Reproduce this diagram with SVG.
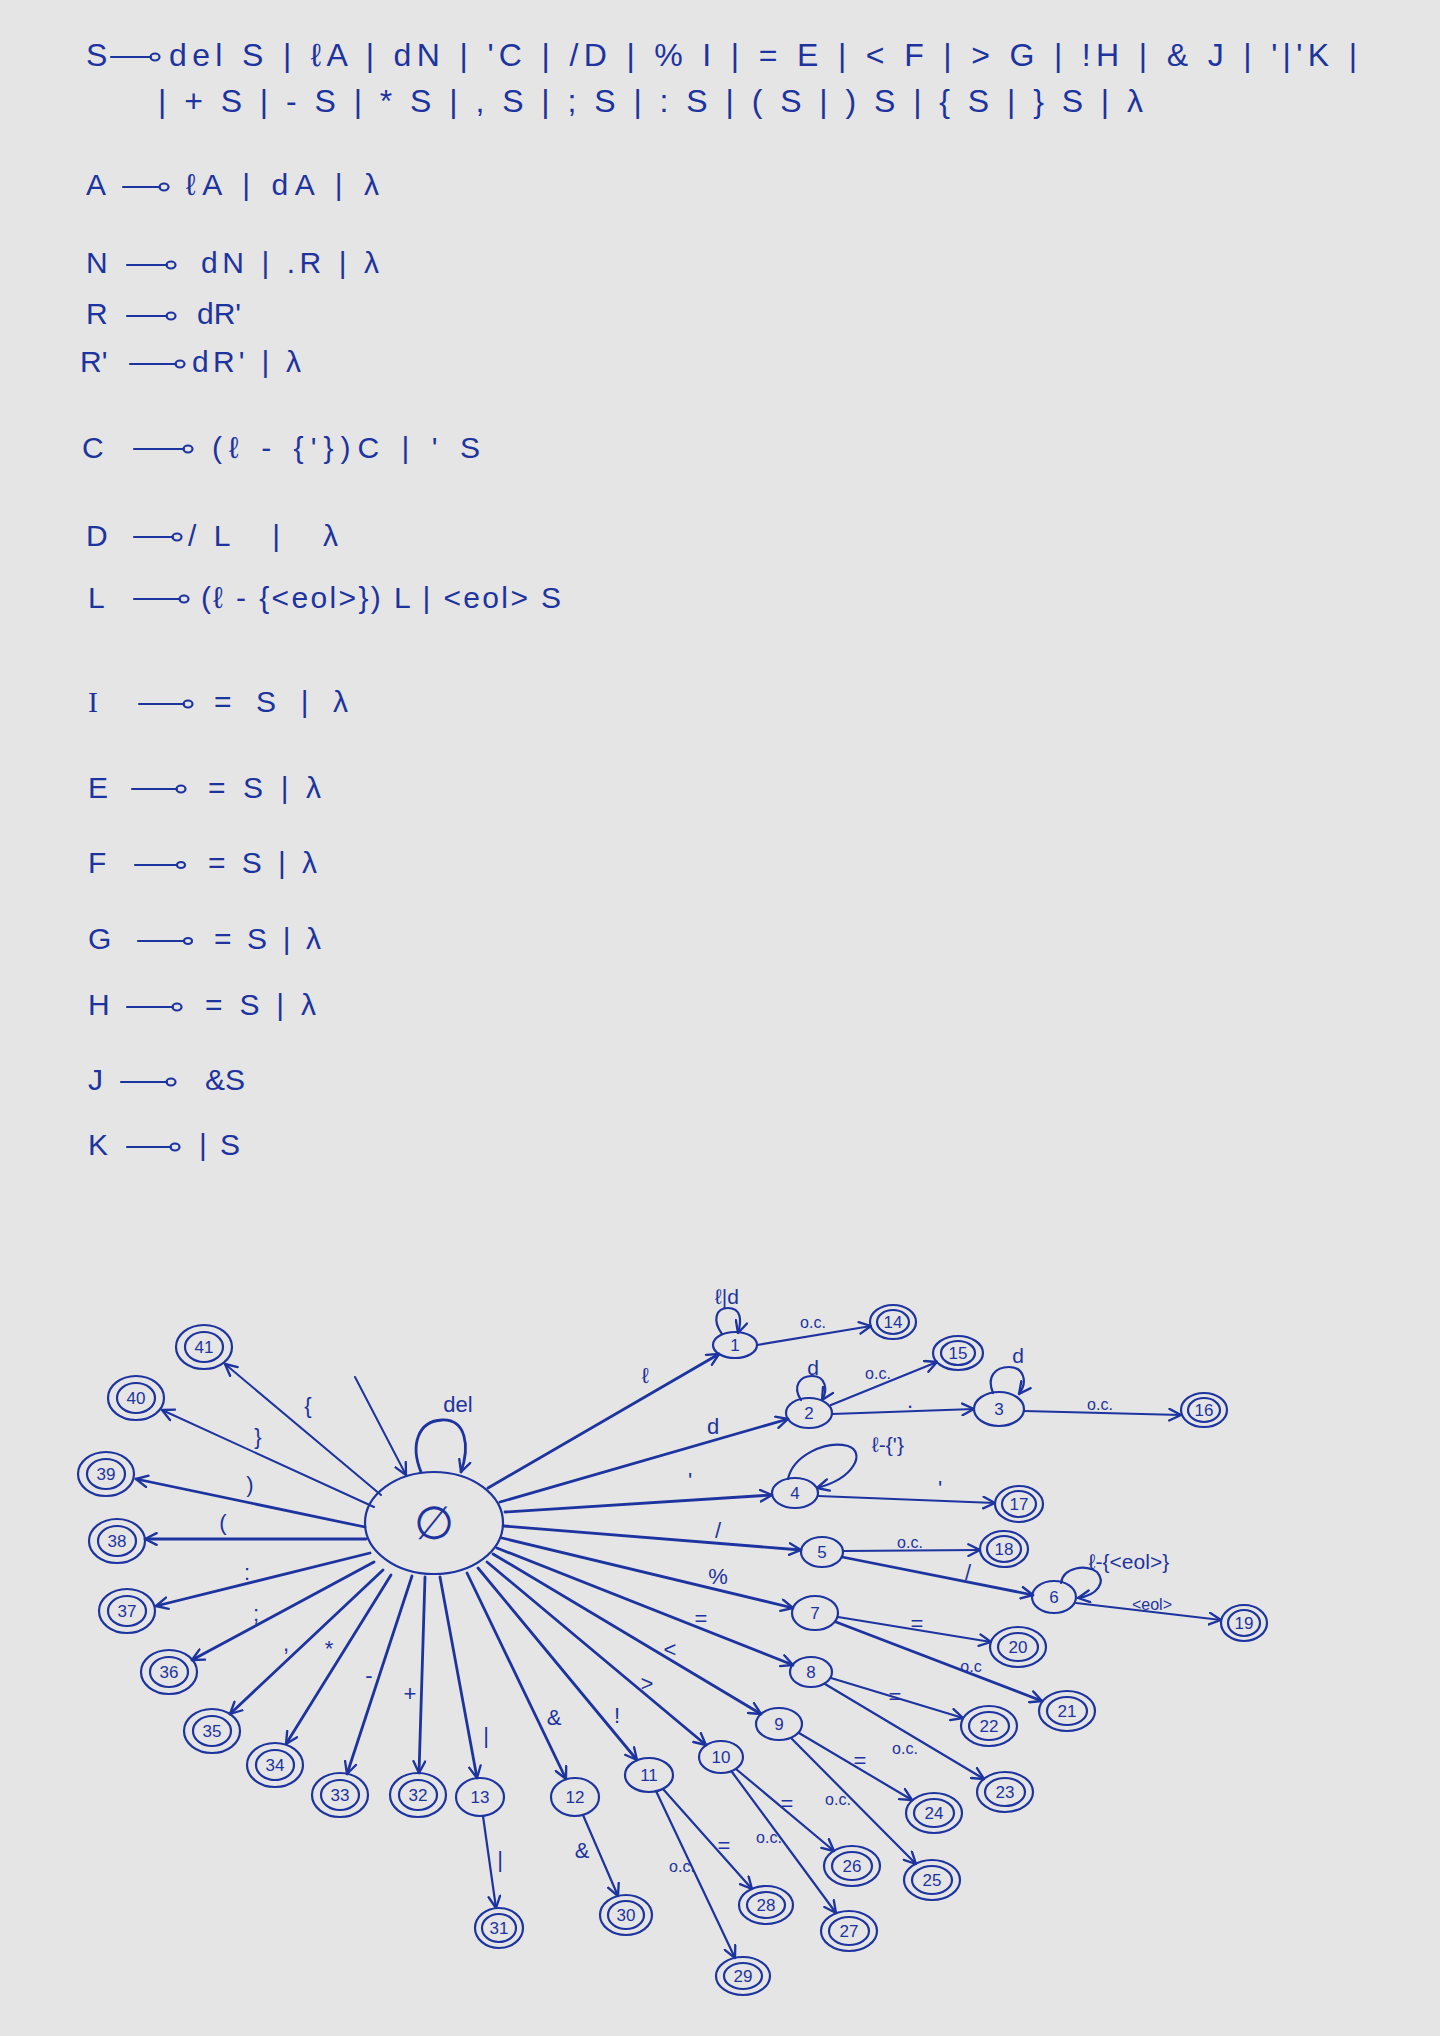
<svg xmlns="http://www.w3.org/2000/svg" width="1440" height="2036" viewBox="0 0 1440 2036">
<defs>
<style>
.ln{fill:none;stroke:#1d339f;stroke-width:2.2;stroke-linecap:round;stroke-linejoin:round}
.th{stroke-width:2.8}
.nd{fill:none;stroke:#1d339f;stroke-width:2.2}
.t{font-family:"Liberation Sans",Arial,sans-serif;fill:#1d339f}
.g{font-size:30px}
.g1{font-size:32px}
.nl{font-size:17px;text-anchor:middle;dominant-baseline:central}
.el{font-size:22px;text-anchor:middle;dominant-baseline:central}
.lp{font-size:21px;text-anchor:middle;dominant-baseline:central}
.oc{font-size:16px;text-anchor:middle;dominant-baseline:central}
</style>
<marker id="ah" viewBox="0 0 12 12" refX="11" refY="6" markerWidth="14" markerHeight="14" markerUnits="userSpaceOnUse" orient="auto">
<path d="M1,1 L11,6 L1,11" fill="none" stroke="#1d339f" stroke-width="2" stroke-linecap="round" stroke-linejoin="round"/>
</marker>
</defs>
<rect x="0" y="0" width="1440" height="2036" fill="#e5e5e5"/>

<g id="grammar">
<g class="ln">
<path d="M111,57 H151"/><ellipse cx="155" cy="57" rx="4.5" ry="3.5"/>
<path d="M123,187 H160"/><ellipse cx="164" cy="187" rx="4.5" ry="3.5"/>
<path d="M127,265 H167"/><ellipse cx="171" cy="265" rx="4.5" ry="3.5"/>
<path d="M127,316 H167"/><ellipse cx="171" cy="316" rx="4.5" ry="3.5"/>
<path d="M130,364 H176"/><ellipse cx="180" cy="364" rx="4.5" ry="3.5"/>
<path d="M134,449 H184"/><ellipse cx="188" cy="449" rx="4.5" ry="3.5"/>
<path d="M134,537 H173"/><ellipse cx="177" cy="537" rx="4.5" ry="3.5"/>
<path d="M134,599 H180"/><ellipse cx="184" cy="599" rx="4.5" ry="3.5"/>
<path d="M139,704 H184"/><ellipse cx="188" cy="704" rx="4.5" ry="3.5"/>
<path d="M132,789 H177"/><ellipse cx="181" cy="789" rx="4.5" ry="3.5"/>
<path d="M135,865 H177"/><ellipse cx="181" cy="865" rx="4" ry="3"/>
<path d="M138,941 H184"/><ellipse cx="188" cy="941" rx="4" ry="3"/>
<path d="M127,1007 H173"/><ellipse cx="177" cy="1007" rx="4.5" ry="3.5"/>
<path d="M121,1082 H167"/><ellipse cx="171" cy="1082" rx="4.5" ry="3.5"/>
<path d="M127,1147 H171"/><ellipse cx="175" cy="1147" rx="4.5" ry="3.5"/>
</g>
<g class="t g1">
<text x="86" y="66">S</text>
<text x="169" y="66" textLength="1188" lengthAdjust="spacing">del S | ℓA | dN | 'C | /D | % I | = E | &lt; F | &gt; G | !H | &amp; J | '|'K |</text>
<text x="158" y="112" textLength="985" lengthAdjust="spacing">| + S | - S | * S | , S | ; S | : S | ( S | ) S | { S | } S | λ</text>
</g>
<g class="t g">
<text x="86" y="195">A</text><text x="186" y="195" textLength="193" lengthAdjust="spacing">ℓA | dA | λ</text>
<text x="86" y="273">N</text><text x="201" y="273" textLength="178" lengthAdjust="spacing">dN | .R | λ</text>
<text x="86" y="324">R</text><text x="197" y="324">dR'</text>
<text x="80" y="372">R'</text><text x="192" y="372" textLength="109" lengthAdjust="spacing">dR' | λ</text>
<text x="82" y="458">C</text><text x="212" y="458" textLength="268" lengthAdjust="spacing">(ℓ - {'})C | ' S</text>
<text x="86" y="546">D</text><text x="188" y="546" textLength="150" lengthAdjust="spacing">/L | λ</text>
<text x="88" y="608">L</text><text x="201" y="608" textLength="360" lengthAdjust="spacing">(ℓ - {&lt;eol&gt;}) L | &lt;eol&gt; S</text>
<text x="88" y="712" style="font-family:'Liberation Serif',serif">I</text><text x="214" y="712" textLength="134" lengthAdjust="spacing">= S | λ</text>
<text x="88" y="798">E</text><text x="208" y="798" textLength="113" lengthAdjust="spacing">= S | λ</text>
<text x="88" y="873">F</text><text x="208" y="873" textLength="109" lengthAdjust="spacing">= S | λ</text>
<text x="88" y="949">G</text><text x="214" y="949" textLength="107" lengthAdjust="spacing">= S | λ</text>
<text x="88" y="1015">H</text><text x="205" y="1015" textLength="111" lengthAdjust="spacing">= S | λ</text>
<text x="88" y="1090">J</text><text x="205" y="1090">&amp;S</text>
<text x="88" y="1155">K</text><text x="199" y="1155" textLength="41" lengthAdjust="spacing">| S</text>
</g>
</g>

<g id="connectors">
<g class="ln th" marker-end="url(#ah)">
<path d="M355,1377 L406,1475" stroke-width="2"/>
<path d="M421,1472 C410,1445 418,1421 442,1420 C466,1419 470,1446 461,1472"/>
<path d="M488,1488 L719,1354"/>
<path d="M500,1502 L788,1419"/>
<path d="M505,1512 L772,1495"/>
<path d="M504,1526 L801,1550"/>
<path d="M502,1538 L793,1608"/>
<path d="M497,1548 L793,1665"/>
<path d="M493,1554 L761,1714"/>
<path d="M487,1562 L706,1745"/>
<path d="M478,1568 L637,1760"/>
<path d="M467,1573 L566,1779"/>
<path d="M440,1577 L477,1778"/>
<path d="M425,1577 L419,1773"/>
<path d="M412,1576 L347,1774"/>
<path d="M391,1575 L286,1744"/>
<path d="M383,1570 L230,1714"/>
<path d="M374,1562 L192,1660"/>
<path d="M370,1553 L156,1606"/>
<path d="M366,1539 L145,1539"/>
<path d="M365,1527 L136,1479"/>
<path d="M374,1507 L162,1410" stroke-width="2"/>
<path d="M381,1495 L225,1364" stroke-width="2"/>
</g>
<g class="ln" marker-end="url(#ah)">
<path d="M722,1334 C712,1320 716,1308 728,1308 C741,1308 742,1320 738,1333"/>
<path d="M801,1400 C792,1386 800,1376 812,1376 C826,1376 828,1390 822,1400"/>
<path d="M993,1393 C986,1376 996,1367 1009,1367 C1024,1367 1028,1382 1019,1394"/>
<path d="M788,1479 C793,1456 825,1440 848,1446 C866,1452 855,1478 817,1488"/>
<path d="M1061,1583 C1063,1567 1087,1564 1097,1572 C1106,1582 1098,1595 1078,1598"/>
<path d="M757,1345 L871,1326"/>
<path d="M831,1405 L937,1362"/>
<path d="M832,1414 L974,1409"/>
<path d="M1024,1411 L1181,1415"/>
<path d="M818,1496 L995,1503"/>
<path d="M843,1551 L980,1550"/>
<path d="M842,1557 L1033,1595" class="ln th"/>
<path d="M1076,1603 L1221,1620"/>
<path d="M838,1617 L991,1642"/>
<path d="M836,1622 L1042,1701" class="ln th"/>
<path d="M831,1678 L963,1718"/>
<path d="M825,1684 L984,1779"/>
<path d="M799,1733 L912,1800"/>
<path d="M792,1739 L916,1864"/>
<path d="M736,1769 L834,1851"/>
<path d="M732,1772 L836,1913"/>
<path d="M663,1789 L752,1889"/>
<path d="M656,1791 L735,1958"/>
<path d="M583,1815 L618,1896"/>
<path d="M483,1816 L496,1908"/>
</g>
<g class="t">
<text class="el" x="458" y="1404">del</text>
<text class="el" x="645" y="1375">ℓ</text>
<text class="el" x="713" y="1426">d</text>
<text class="el" x="690" y="1480">'</text>
<text class="el" x="718" y="1530">/</text>
<text class="el" x="718" y="1576">%</text>
<text class="el" x="701" y="1618">=</text>
<text class="el" x="670" y="1649">&lt;</text>
<text class="el" x="647" y="1683">&gt;</text>
<text class="el" x="617" y="1715">!</text>
<text class="el" x="554" y="1717">&amp;</text>
<text class="el" x="486" y="1735">|</text>
<text class="el" x="410" y="1693">+</text>
<text class="el" x="369" y="1675">-</text>
<text class="el" x="329" y="1648">*</text>
<text class="el" x="286" y="1643">,</text>
<text class="el" x="256" y="1613">;</text>
<text class="el" x="247" y="1572">:</text>
<text class="el" x="223" y="1522">(</text>
<text class="el" x="250" y="1484">)</text>
<text class="el" x="258" y="1436">}</text>
<text class="el" x="308" y="1405">{</text>
<text class="lp" x="727" y="1296">ℓ|d</text>
<text class="lp" x="813" y="1367">d</text>
<text class="lp" x="1018" y="1355">d</text>
<text class="lp" x="888" y="1444">ℓ-{'}</text>
<text class="lp" x="1129" y="1561">ℓ-{&lt;eol&gt;}</text>
<text class="oc" x="813" y="1322">o.c.</text>
<text class="oc" x="878" y="1373">o.c.</text>
<text class="el" x="910" y="1400">.</text>
<text class="oc" x="1100" y="1404">o.c.</text>
<text class="el" x="940" y="1488">'</text>
<text class="oc" x="910" y="1542">o.c.</text>
<text class="el" x="968" y="1572">/</text>
<text class="oc" x="1152" y="1604">&lt;eol&gt;</text>
<text class="el" x="917" y="1623">=</text>
<text class="oc" x="971" y="1666">o.c</text>
<text class="el" x="895" y="1696">=</text>
<text class="oc" x="905" y="1748">o.c.</text>
<text class="el" x="860" y="1760">=</text>
<text class="oc" x="838" y="1799">o.c.</text>
<text class="el" x="787" y="1803">=</text>
<text class="oc" x="769" y="1837">o.c.</text>
<text class="el" x="724" y="1845">=</text>
<text class="oc" x="682" y="1866">o.c.</text>
<text class="el" x="582" y="1850">&amp;</text>
<text class="el" x="500" y="1859">|</text>
</g>
</g>

<g id="nodes">
<g id="n0"><ellipse class="nd" cx="434" cy="1523" rx="69" ry="51"/><text class="t" x="434" y="1523" text-anchor="middle" dominant-baseline="central" font-size="46">∅</text></g>
<g id="n1"><ellipse class="nd" cx="735" cy="1345" rx="22" ry="13"/><text class="t nl" x="735" y="1345">1</text></g>
<g id="n2"><ellipse class="nd" cx="809" cy="1413" rx="23" ry="15"/><text class="t nl" x="809" y="1413">2</text></g>
<g id="n3"><ellipse class="nd" cx="999" cy="1409" rx="25" ry="17"/><text class="t nl" x="999" y="1409" font-size="19">3</text></g>
<g id="n4"><ellipse class="nd" cx="795" cy="1493" rx="23" ry="15"/><text class="t nl" x="795" y="1493">4</text></g>
<g id="n5"><ellipse class="nd" cx="822" cy="1552" rx="21" ry="15"/><text class="t nl" x="822" y="1552">5</text></g>
<g id="n6"><ellipse class="nd" cx="1054" cy="1597" rx="22" ry="16"/><text class="t nl" x="1054" y="1597">6</text></g>
<g id="n7"><ellipse class="nd" cx="815" cy="1613" rx="23" ry="17"/><text class="t nl" x="815" y="1613">7</text></g>
<g id="n8"><ellipse class="nd" cx="811" cy="1672" rx="21" ry="15"/><text class="t nl" x="811" y="1672">8</text></g>
<g id="n9"><ellipse class="nd" cx="779" cy="1724" rx="23" ry="16"/><text class="t nl" x="779" y="1724">9</text></g>
<g id="n10"><ellipse class="nd" cx="721" cy="1757" rx="22" ry="16"/><text class="t nl" x="721" y="1757">10</text></g>
<g id="n11"><ellipse class="nd" cx="649" cy="1775" rx="24" ry="17"/><text class="t nl" x="649" y="1775">11</text></g>
<g id="n12"><ellipse class="nd" cx="575" cy="1797" rx="24" ry="19"/><text class="t nl" x="575" y="1797">12</text></g>
<g id="n13"><ellipse class="nd" cx="480" cy="1797" rx="24" ry="19"/><text class="t nl" x="480" y="1797">13</text></g>
<g id="n14"><ellipse class="nd" cx="893" cy="1322" rx="23" ry="17"/><ellipse class="nd" cx="893" cy="1322" rx="16" ry="12"/><text class="t nl" x="893" y="1322" font-size="15">14</text></g>
<g id="n15"><ellipse class="nd" cx="958" cy="1353" rx="25" ry="17"/><ellipse class="nd" cx="958" cy="1353" rx="17" ry="12"/><text class="t nl" x="958" y="1353" font-size="15">15</text></g>
<g id="n16"><ellipse class="nd" cx="1204" cy="1410" rx="23" ry="17"/><ellipse class="nd" cx="1204" cy="1410" rx="16" ry="12"/><text class="t nl" x="1204" y="1410" font-size="15">16</text></g>
<g id="n17"><ellipse class="nd" cx="1019" cy="1504" rx="24" ry="18"/><ellipse class="nd" cx="1019" cy="1504" rx="17" ry="13"/><text class="t nl" x="1019" y="1504" font-size="15">17</text></g>
<g id="n18"><ellipse class="nd" cx="1004" cy="1549" rx="24" ry="18"/><ellipse class="nd" cx="1004" cy="1549" rx="17" ry="13"/><text class="t nl" x="1004" y="1549" font-size="15">18</text></g>
<g id="n19"><ellipse class="nd" cx="1244" cy="1623" rx="23" ry="18"/><ellipse class="nd" cx="1244" cy="1623" rx="16" ry="13"/><text class="t nl" x="1244" y="1623" font-size="15">19</text></g>
<g id="n20"><ellipse class="nd" cx="1018" cy="1647" rx="28" ry="20"/><ellipse class="nd" cx="1018" cy="1647" rx="20" ry="14"/><text class="t nl" x="1018" y="1647">20</text></g>
<g id="n21"><ellipse class="nd" cx="1067" cy="1711" rx="28" ry="20"/><ellipse class="nd" cx="1067" cy="1711" rx="20" ry="14"/><text class="t nl" x="1067" y="1711">21</text></g>
<g id="n22"><ellipse class="nd" cx="989" cy="1726" rx="28" ry="20"/><ellipse class="nd" cx="989" cy="1726" rx="20" ry="14"/><text class="t nl" x="989" y="1726">22</text></g>
<g id="n23"><ellipse class="nd" cx="1005" cy="1792" rx="28" ry="20"/><ellipse class="nd" cx="1005" cy="1792" rx="20" ry="14"/><text class="t nl" x="1005" y="1792">23</text></g>
<g id="n24"><ellipse class="nd" cx="934" cy="1813" rx="28" ry="20"/><ellipse class="nd" cx="934" cy="1813" rx="20" ry="14"/><text class="t nl" x="934" y="1813">24</text></g>
<g id="n25"><ellipse class="nd" cx="932" cy="1880" rx="28" ry="20"/><ellipse class="nd" cx="932" cy="1880" rx="20" ry="14"/><text class="t nl" x="932" y="1880">25</text></g>
<g id="n26"><ellipse class="nd" cx="852" cy="1866" rx="28" ry="20"/><ellipse class="nd" cx="852" cy="1866" rx="20" ry="14"/><text class="t nl" x="852" y="1866">26</text></g>
<g id="n27"><ellipse class="nd" cx="849" cy="1931" rx="28" ry="20"/><ellipse class="nd" cx="849" cy="1931" rx="20" ry="14"/><text class="t nl" x="849" y="1931">27</text></g>
<g id="n28"><ellipse class="nd" cx="766" cy="1905" rx="27" ry="19"/><ellipse class="nd" cx="766" cy="1905" rx="19" ry="13"/><text class="t nl" x="766" y="1905">28</text></g>
<g id="n29"><ellipse class="nd" cx="743" cy="1976" rx="27" ry="19"/><ellipse class="nd" cx="743" cy="1976" rx="19" ry="13"/><text class="t nl" x="743" y="1976">29</text></g>
<g id="n30"><ellipse class="nd" cx="626" cy="1915" rx="26" ry="20"/><ellipse class="nd" cx="626" cy="1915" rx="18" ry="14"/><text class="t nl" x="626" y="1915">30</text></g>
<g id="n31"><ellipse class="nd" cx="499" cy="1928" rx="24" ry="20"/><ellipse class="nd" cx="499" cy="1928" rx="17" ry="14"/><text class="t nl" x="499" y="1928">31</text></g>
<g id="n32"><ellipse class="nd" cx="418" cy="1795" rx="28" ry="22"/><ellipse class="nd" cx="418" cy="1795" rx="19" ry="15"/><text class="t nl" x="418" y="1795">32</text></g>
<g id="n33"><ellipse class="nd" cx="340" cy="1795" rx="28" ry="22"/><ellipse class="nd" cx="340" cy="1795" rx="19" ry="15"/><text class="t nl" x="340" y="1795">33</text></g>
<g id="n34"><ellipse class="nd" cx="275" cy="1765" rx="28" ry="22"/><ellipse class="nd" cx="275" cy="1765" rx="19" ry="15"/><text class="t nl" x="275" y="1765">34</text></g>
<g id="n35"><ellipse class="nd" cx="212" cy="1731" rx="28" ry="22"/><ellipse class="nd" cx="212" cy="1731" rx="19" ry="15"/><text class="t nl" x="212" y="1731">35</text></g>
<g id="n36"><ellipse class="nd" cx="169" cy="1672" rx="28" ry="22"/><ellipse class="nd" cx="169" cy="1672" rx="19" ry="15"/><text class="t nl" x="169" y="1672">36</text></g>
<g id="n37"><ellipse class="nd" cx="127" cy="1611" rx="28" ry="22"/><ellipse class="nd" cx="127" cy="1611" rx="19" ry="15"/><text class="t nl" x="127" y="1611">37</text></g>
<g id="n38"><ellipse class="nd" cx="117" cy="1541" rx="28" ry="22"/><ellipse class="nd" cx="117" cy="1541" rx="19" ry="15"/><text class="t nl" x="117" y="1541">38</text></g>
<g id="n39"><ellipse class="nd" cx="106" cy="1474" rx="28" ry="22"/><ellipse class="nd" cx="106" cy="1474" rx="19" ry="15"/><text class="t nl" x="106" y="1474">39</text></g>
<g id="n40"><ellipse class="nd" cx="136" cy="1398" rx="28" ry="22"/><ellipse class="nd" cx="136" cy="1398" rx="19" ry="15"/><text class="t nl" x="136" y="1398">40</text></g>
<g id="n41"><ellipse class="nd" cx="204" cy="1347" rx="28" ry="22"/><ellipse class="nd" cx="204" cy="1347" rx="19" ry="15"/><text class="t nl" x="204" y="1347">41</text></g>
</g>
</svg>
